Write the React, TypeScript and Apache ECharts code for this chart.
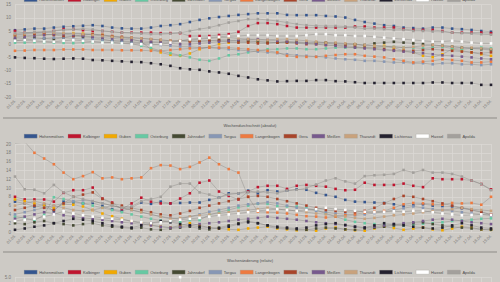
import React, { useEffect, useRef } from "react";
import * as echarts from "echarts";

const dates = [
  "01.03.", "02.03.", "03.03.", "04.03.", "05.03.", "06.03.", "07.03.", "08.03.", "09.03.", "10.03.",
  "11.03.", "12.03.", "13.03.", "14.03.", "15.03.", "16.03.", "17.03.", "18.03.", "19.03.", "20.03.",
  "21.03.", "22.03.", "23.03.", "24.03.", "25.03.", "26.03.", "27.03.", "28.03.", "29.03.", "30.03.",
  "31.03.", "01.04.", "02.04.", "03.04.", "04.04.", "05.04.", "06.04.", "07.04.", "08.04.", "09.04.",
  "10.04.", "11.04.", "12.04.", "13.04.", "14.04.", "15.04.", "16.04.", "17.04.", "18.04.", "19.04.",
];

const names = [
  "Hohenmölsen", "Kolbinger", "Guben", "Osterburg", "Jahnsdorf", "Torgau", "Langenbogen",
  "Gera", "Meißen", "Tharandt", "Lichtenau", "Hassel", "Apolda",
];
const colors = [
  "#34558f", "#c0152f", "#f2a900", "#66c9a3", "#454a33", "#8797b5", "#ee7a40",
  "#a9442a", "#77598d", "#c9a27c", "#24212f", "#ffffff", "#a3a09c",
];

// Top chart: weekly change
const top1 = [5.3, 5.6, 5.9, 5.9, 6.3, 6.6, 6.8, 7.0, 7.2, 6.9, 6.3, 6.0, 5.9, 5.9, 6.3, 6.9, 7.2, 7.6, 8.4, 9.2, 9.8, 10.3, 10.7, 11.1, 11.4, 11.7, 11.7, 11.7, 11.1, 11.0, 11.0, 11.0, 10.7, 10.5, 10.1, 9.2, 8.4, 7.8, 7.2, 6.9, 6.3, 6.1, 5.9, 6.3, 6.3, 5.9, 5.7, 5.4, 5.0, 4.7];
const top2 = [5.0, 4.4, 4.4, 4.4, 5.0, 5.7, 5.7, 5.3, 5.0, 5.0, 4.7, 4.4, 4.4, 4.4, 4.4, 4.2, 4.2, 4.2, 3.1, 3.1, 3.1, 3.5, 3.8, 4.7, 6.9, 8.0, 8.0, 7.6, 6.9, 6.3, 6.3, 6.3, 6.3, 6.3, 6.3, 6.7, 6.7, 6.3, 6.3, 6.3, 5.7, 5.4, 5.4, 5.4, 5.0, 4.4, 4.4, 4.4, 4.4, 4.2];
const top3 = [3.0, 3.2, 3.4, 3.6, 3.8, 4.0, 4.2, 4.0, 3.8, 3.5, 3.0, 2.5, 2.0, 0.9, -1.9, -3.1, -4.0, -4.4, -3.5, -1.9, -1.0, 0, 0.6, 0.9, 0.9, 0.9, 0.9, 0.6, 0.6, 0.6, 0.4, 0.4, 0.4, 0, 0, 0, -0.6, -0.6, -0.6, -1.3, -2.5, -3.1, -4.4, -4.9, -3.8, -1.9, -2.5, -3.1, -3.8, -4.4];
const top4 = [0.6, 0.6, 0.8, 0.8, 0.6, 0.5, 0.4, 0.6, 0.8, 0.8, 0.6, 0.4, 0.2, -0.6, -1.5, -2.5, -3.4, -4.2, -5.0, -5.9, -6.3, -5.4, -4.2, -3.8, -3.1, -2.5, -1.9, -1.9, -1.6, -1.6, -1.9, -1.9, -1.6, -1.3, -1.3, -1.3, -1.3, -1.3, -1.0, -1.0, -1.3, -1.3, -1.6, -1.3, -1.0, -1.6, -1.9, -1.6, -1.3, -1.6];
const top5 = [1.9, 2.2, 2.5, 2.2, 1.9, 2.5, 3.1, 2.8, 2.5, 1.9, 1.3, 1.3, 0.9, 0.6, 0.6, 0.9, 0.9, 1.3, 1.3, 1.3, 1.3, 1.6, 1.6, 1.3, 1.3, 1.0, 0.6, 0.6, 0.9, 0.9, 0.6, 0.6, 0.6, 0.3, 0, 0, -0.3, 0.3, 0.6, 0.9, 0.6, 0.3, 0, -0.3, -0.6, -0.9, -1.3, -1.6, -1.9, -2.2];
const top6 = [1.3, 1.6, 1.9, 2.2, 2.5, 2.5, 2.2, 1.9, 1.9, 1.6, 1.3, 1.0, 0.6, 0.3, 0, -0.3, -0.6, -0.9, -1.0, -1.3, -1.3, -1.6, -1.9, -2.2, -2.5, -2.8, -3.1, -3.4, -3.8, -4.2, -4.4, -4.7, -5.0, -5.4, -5.7, -5.9, -6.3, -6.3, -6.6, -6.9, -6.9, -7.2, -7.2, -7.6, -7.2, -7.2, -7.6, -7.6, -7.9, -7.6];
const top7 = [-2.5, -2.4, -2.2, -2.2, -2.2, -2.0, -2.0, -2.0, -2.2, -2.2, -2.2, -2.3, -2.3, -2.3, -2.5, -2.5, -2.2, -1.9, -1.6, -1.5, -1.3, -1.3, -1.3, -1.6, -1.9, -2.2, -2.5, -3.1, -4.4, -4.8, -4.8, -4.8, -4.4, -4.1, -3.8, -3.8, -4.4, -4.7, -5.0, -5.7, -6.3, -6.9, -6.6, -6.3, -5.7, -6.0, -6.3, -6.9, -6.9, -6.6];
const top8 = [3.5, 3.8, 4.0, 3.8, 3.5, 3.1, 3.1, 3.5, 3.8, 3.5, 3.1, 2.8, 2.5, 2.2, 1.9, 1.6, 1.3, 1.3, 1.0, 1.0, 1.3, 1.3, 1.0, 0.6, 0.6, 0.3, 0.3, 0.6, 0.6, 0.3, 0, 0, -0.3, -0.3, -0.6, -0.9, -1.3, -1.6, -1.9, -2.2, -2.5, -2.5, -2.2, -1.9, -2.2, -2.5, -2.8, -3.1, -3.4, -3.1];
const top9 = [2.5, 2.8, 3.1, 3.4, 3.8, 3.8, 3.5, 3.1, 2.8, 2.5, 2.2, 1.9, 1.6, 1.3, 1.0, 0.6, 0.3, 0, 0, 0.3, 0.6, 0.9, 1.3, 1.6, 1.9, 1.9, 1.6, 1.3, 1.0, 0.6, 0.3, 0, -0.3, -0.6, -1.0, -1.3, -1.6, -1.9, -2.2, -2.5, -2.8, -3.1, -3.4, -3.8, -4.2, -4.4, -4.7, -5.0, -5.4, -5.7];
const top10 = [3.8, 4.0, 4.4, 4.6, 4.4, 4.2, 4.0, 3.8, 3.5, 3.1, 2.8, 2.5, 2.5, 2.2, 1.9, 1.6, 1.3, 1.3, 1.6, 1.9, 2.2, 2.5, 2.5, 2.2, 1.9, 1.6, 1.6, 1.9, 1.9, 1.6, 1.3, 1.0, 0.6, 0.6, 0.3, 0, -0.3, -0.6, -0.9, -1.0, -1.3, -1.0, -0.6, -0.3, -0.6, -0.9, -1.3, -1.3, -1.6, -1.9];
const top11 = [-5.0, -5.2, -5.3, -5.5, -5.6, -5.5, -5.4, -5.5, -6.0, -6.1, -6.3, -6.5, -6.7, -6.8, -7.2, -7.6, -8.2, -9.1, -9.5, -9.7, -10.3, -10.7, -11.2, -12.0, -12.6, -13.3, -13.7, -14.1, -14.0, -13.9, -13.9, -13.6, -13.6, -14.0, -14.1, -14.4, -14.7, -14.7, -14.7, -14.7, -14.7, -14.7, -14.7, -14.5, -14.5, -14.7, -14.7, -14.7, -15.4, -15.4];
const top12 = [1.3, 1.6, 1.3, 1.0, 0.9, 1.3, 1.6, 1.3, 1.0, 0.6, 0.6, 0.3, 0, 0, -0.3, 0, 0.6, 1.3, 1.9, 2.2, 2.5, 2.8, 3.1, 3.1, 3.4, 3.4, 3.4, 3.1, 3.1, 3.1, 3.4, 3.8, 3.8, 3.4, 3.4, 3.1, 3.1, 2.8, 2.5, 2.2, 1.9, 1.6, 1.3, 1.0, 1.0, 1.3, 1.0, 0.6, 0.3, 0.3];
const top13 = [4.2, 4.4, 4.7, 4.8, 5.0, 5.3, 5.6, 5.9, 5.6, 5.0, 4.7, 4.4, 4.2, 4.0, 3.8, 3.8, 4.0, 4.4, 5.0, 5.7, 6.3, 7.2, 8.2, 8.8, 9.5, 9.5, 9.2, 8.8, 8.2, 7.6, 7.2, 7.0, 6.9, 6.9, 6.7, 6.3, 5.9, 5.9, 5.7, 5.4, 5.4, 5.0, 5.0, 4.8, 4.7, 4.4, 4.2, 4.0, 3.8, 3.6];

// Middle chart: weekly average
const mid1 = [6.9, 6.5, 5.8, 6.2, 4.8, 6.9, 6.7, 6.5, 6.6, 5.9, 5.2, 4.8, 5.5, 6.7, 6.4, 6.9, 6.5, 6.6, 6.7, 6.7, 7.3, 7.8, 8.8, 8.8, 9.4, 8.8, 9.5, 9.2, 9.4, 9.7, 9.6, 8.9, 8.4, 8.0, 7.3, 6.9, 6.8, 6.7, 6.6, 6.3, 5.9, 6.1, 6.3, 6.0, 5.9, 5.8, 5.4, 5.0, 4.6, 3.9];
const mid2 = [8.0, 7.4, 7.4, 7.4, 6.9, 8.9, 9.5, 9.5, 10.1, 7.6, 6.7, 5.2, 6.5, 7.8, 6.9, 6.5, 6.5, 7.6, 8.8, 11.2, 11.7, 9.2, 8.2, 7.4, 9.2, 10.2, 10.5, 10.5, 9.8, 10.5, 10.7, 10.5, 10.3, 9.8, 9.5, 9.6, 11.2, 10.7, 10.7, 10.7, 11.0, 10.5, 10.2, 12.2, 12.0, 12.0, 12.0, 11.7, 10.9, 9.7];
const mid3 = [7.4, 7.0, 6.5, 6.0, 5.5, 6.3, 6.2, 5.8, 5.0, 4.2, 3.6, 3.0, 2.4, 2.0, 1.6, 1.2, 1.0, 1.5, 2.0, 1.5, 1.0, 0.8, 0.6, 0.5, 0.8, 1.0, 1.2, 0.8, 0.6, 0.4, 0.5, 0.3, 0.8, 1.0, 0.6, 0.4, 0.3, 0.8, 1.2, 0.9, 0.5, 0.8, 1.0, 0.6, 0.4, 0.8, 1.2, 1.0, 0.6, 0.5];
const mid4 = [3.5, 3.2, 2.6, 3.9, 7.9, 7.5, 7.0, 6.5, 6.0, 5.5, 5.0, 4.5, 4.0, 3.5, 3.0, 2.6, 2.4, 2.2, 2.7, 2.7, 3.9, 4.5, 5.0, 5.6, 6.0, 6.4, 6.4, 5.9, 5.8, 5.8, 5.4, 5.0, 4.2, 3.5, 2.8, 2.3, 2.0, 1.8, 1.6, 1.5, 1.5, 1.7, 1.9, 2.0, 2.2, 2.5, 2.6, 2.8, 3.0, 3.1];
const mid5 = [2.0, 1.8, 2.2, 2.5, 2.0, 1.8, 1.5, 1.8, 2.0, 1.5, 1.2, 1.0, 0.8, 1.0, 0.6, 0.5, 0.8, 1.0, 1.2, 0.8, 0.6, 1.0, 1.5, 2.0, 2.5, 2.0, 1.5, 1.0, 0.8, 0.6, 0.5, 0.8, 1.0, 0.8, 0.6, 0.5, 0.8, 1.0, 1.2, 1.5, 1.8, 2.0, 2.2, 1.8, 1.5, 1.2, 1.0, 0.8, 0.6, 0.5];
const mid6 = [4.0, 4.5, 5.0, 5.5, 6.0, 6.5, 7.0, 7.2, 7.0, 6.5, 6.0, 5.5, 5.0, 4.5, 4.0, 3.5, 3.2, 3.0, 3.5, 4.0, 4.6, 5.0, 5.5, 6.0, 6.3, 6.5, 6.8, 6.5, 6.0, 5.5, 5.2, 4.8, 4.5, 4.2, 4.0, 3.8, 4.0, 4.3, 4.6, 5.0, 5.4, 5.8, 5.5, 5.2, 5.0, 4.8, 4.5, 4.2, 4.0, 3.8];
const mid7 = [20.1, 20.5, 18.0, 16.7, 15.4, 13.5, 12.0, 12.7, 13.6, 12.2, 12.4, 12.0, 12.2, 12.4, 14.5, 15.2, 15.1, 14.3, 14.8, 15.8, 16.9, 15.4, 14.3, 13.5, 8.0, 4.6, 4.5, 4.4, 4.2, 3.9, 3.6, 3.5, 3.3, 3.5, 3.8, 4.0, 4.4, 4.6, 4.8, 5.5, 6.3, 6.6, 6.5, 6.3, 6.2, 6.6, 6.5, 6.6, 6.2, 8.0];
const mid8 = [5.0, 5.5, 6.0, 5.5, 5.0, 6.5, 8.0, 8.5, 9.0, 7.5, 6.5, 6.0, 5.5, 5.0, 4.5, 4.0, 3.8, 4.2, 4.8, 5.5, 6.0, 6.5, 7.0, 7.5, 8.0, 8.2, 8.0, 7.5, 7.0, 6.5, 6.0, 5.5, 5.0, 4.8, 4.6, 4.5, 4.8, 5.5, 6.5, 7.5, 8.2, 8.0, 7.5, 7.0, 6.5, 6.0, 5.5, 5.0, 4.5, 4.0];
const mid9 = [3.0, 3.5, 4.0, 4.5, 4.2, 3.8, 3.5, 3.2, 3.0, 2.8, 2.5, 2.2, 2.0, 1.8, 1.5, 1.2, 1.0, 1.2, 1.5, 1.8, 2.0, 2.2, 2.5, 2.8, 3.0, 3.2, 3.5, 3.2, 3.0, 2.8, 2.5, 2.2, 2.0, 1.8, 1.5, 1.2, 1.0, 1.2, 1.5, 1.8, 2.0, 2.2, 2.5, 2.8, 3.0, 2.8, 2.5, 2.2, 2.0, 1.8];
const mid10 = [6.0, 6.5, 7.0, 6.5, 6.0, 5.5, 5.0, 4.8, 5.0, 5.5, 6.0, 5.5, 5.0, 4.5, 4.0, 3.5, 3.0, 3.2, 3.5, 3.8, 4.0, 4.2, 4.5, 4.8, 5.0, 5.2, 5.5, 5.2, 5.0, 4.8, 4.5, 4.2, 4.0, 3.8, 3.5, 3.2, 3.0, 3.2, 3.5, 3.8, 4.0, 4.2, 4.5, 4.8, 5.0, 5.2, 5.5, 5.2, 5.0, 4.8];
const mid11 = [0.5, 0.8, 1.2, 1.5, 2.0, 2.5, 3.0, 2.8, 2.5, 2.0, 1.5, 1.2, 1.0, 1.5, 2.0, 2.5, 2.2, 1.8, 1.5, 1.2, 1.0, 0.8, 1.2, 1.8, 2.2, 2.0, 1.5, 1.2, 1.0, 0.8, 1.0, 1.5, 1.8, 2.0, 1.6, 1.2, 1.0, 1.5, 2.0, 1.8, 1.5, 1.2, 1.0, 0.8, 1.0, 1.5, 2.0, 1.5, 1.0, 0.8];
const mid12 = [2.5, 2.8, 3.0, 3.5, 4.0, 4.7, 4.2, 3.8, 3.5, 3.2, 3.0, 2.8, 2.5, 2.2, 2.0, 2.2, 2.5, 2.8, 3.0, 3.2, 3.5, 3.8, 4.0, 4.2, 4.5, 4.8, 5.0, 5.2, 5.0, 4.8, 5.0, 5.2, 5.5, 5.2, 5.0, 4.8, 4.6, 4.5, 4.6, 4.7, 4.6, 4.8, 4.8, 4.5, 4.2, 4.0, 3.8, 3.9, 4.0, 3.9];
const mid13 = [12.6, 9.7, 9.6, 8.8, 10.7, 9.0, 8.0, 7.5, 7.0, 6.5, 6.0, 5.5, 5.8, 7.0, 7.5, 8.0, 10.3, 11.0, 11.0, 9.0, 8.5, 7.8, 8.5, 8.8, 9.0, 9.2, 9.0, 8.8, 9.4, 9.6, 10.0, 10.8, 11.7, 12.2, 11.5, 11.0, 12.7, 12.9, 13.0, 13.2, 14.1, 13.5, 14.1, 13.5, 13.5, 13.2, 12.6, 11.7, 10.9, 9.5];

// Bottom chart (only its top edge is visible)
const bottom12 = [null, null, null, null, null, null, null, null, null, null, null, null, null, null, null, null, null, 4.9, null, null, null, null, null, null, null, null, null, null, null, null, null, null, null, null, null, null, null, null, null, null, null, null, null, null, null, null, null, null, null, null];

const topData = [top1, top2, top3, top4, top5, top6, top7, top8, top9, top10, top11, top12, top13];
const midData = [mid1, mid2, mid3, mid4, mid5, mid6, mid7, mid8, mid9, mid10, mid11, mid12, mid13];

const FONT = "Liberation Sans";
const BG = "#cdcac5";

export default function App() {
  const ref = useRef<HTMLDivElement>(null);
  useEffect(() => {
    if (!ref.current) return;
    const chart = echarts.init(ref.current, null, { renderer: "svg" });

    const legend = (top: number) => ({
      top,
      left: 24,
      padding: 0,
      icon: "rect",
      itemWidth: 13,
      itemHeight: 4,
      itemGap: 4,
      textStyle: { fontSize: 4, color: "#4a4a4a", fontFamily: FONT, padding: [0, 0, 0, -3] },
      data: names.map((n, i) => ({ name: n, itemStyle: { color: colors[i], borderColor: "#9a9894", borderWidth: 0.3 } })),
    });

    const xAxis = (gridIndex: number, showLabels: boolean) => ({
      type: "category",
      gridIndex,
      data: dates,
      boundaryGap: false,
      axisLine: { show: false },
      axisTick: { show: false },
      axisLabel: { show: showLabels, rotate: 45, fontSize: 4, interval: 0, color: "#7a7875", fontFamily: FONT, margin: 3 },
      splitLine: { show: true, lineStyle: { color: "#dad8d4", width: 0.8 } },
    });

    const yAxis = (gridIndex: number, min: number, max: number, interval: number, fmt?: (v: number) => string, showMin = true) => ({
      type: "value",
      gridIndex,
      min,
      max,
      interval,
      axisLine: { show: false },
      axisTick: { show: false },
      axisLabel: { fontSize: 4.5, color: "#7a7875", fontFamily: FONT, margin: 4, formatter: fmt, showMinLabel: showMin },
      splitLine: { show: true, lineStyle: { color: "#dad8d4", width: 0.8 } },
    });

    const mkSeries = (data: (number | null)[], i: number, axis: number) => ({
      type: "line",
      name: names[i],
      xAxisIndex: axis,
      yAxisIndex: axis,
      data,
      symbol: "rect",
      symbolSize: 2.6,
      showSymbol: true,
      connectNulls: false,
      itemStyle: { color: colors[i] },
      lineStyle: { color: "rgba(125,123,120,0.45)", width: 0.8 },
      emphasis: { disabled: true },
    });

    const series: any[] = [];
    topData.forEach((d, i) => series.push(mkSeries(d, i, 0)));
    midData.forEach((d, i) => series.push(mkSeries(d, i, 1)));
    series.push(mkSeries(bottom12, 11, 2));

    const titleStyle = { fontSize: 4, fontWeight: "normal", color: "#4a4a4a", fontFamily: FONT };

    chart.setOption({
      animation: false,
      backgroundColor: BG,
      textStyle: { fontFamily: FONT },
      title: [
        { text: "Wochendurchschnitt (absolut)", left: "center", top: 123, padding: 0, textStyle: titleStyle },
        { text: "Wochenänderung (relativ)", left: "center", top: 258, padding: 0, textStyle: titleStyle },
      ],
      legend: [legend(-2.5), legend(134), legend(270)],
      grid: [
        { left: 15, right: 9, top: 4.6, height: 92.4 },
        { left: 15, right: 9, top: 144, height: 88 },
        { left: 15, right: 9, top: 277, height: 30 },
      ],
      xAxis: [xAxis(0, true), xAxis(1, true), xAxis(2, false)],
      yAxis: [
        yAxis(0, -20, 15, 5),
        yAxis(1, 0, 20, 2),
        yAxis(2, 0, 5, 5, (v: number) => v.toFixed(1), false),
      ],
      graphic: [
        { type: "line", shape: { x1: 3, y1: 118, x2: 497, y2: 118 }, style: { stroke: "#8d8b87", lineWidth: 1 } },
        { type: "line", shape: { x1: 3, y1: 252, x2: 497, y2: 252 }, style: { stroke: "#8d8b87", lineWidth: 1 } },
      ],
      series,
    });
    return () => chart.dispose();
  }, []);
  return (
    <div style={{ position: "fixed", left: 0, top: 0, width: 500, height: 282, overflow: "hidden", background: BG }}>
      <div ref={ref} style={{ width: 500, height: 282 }} />
    </div>
  );
}
